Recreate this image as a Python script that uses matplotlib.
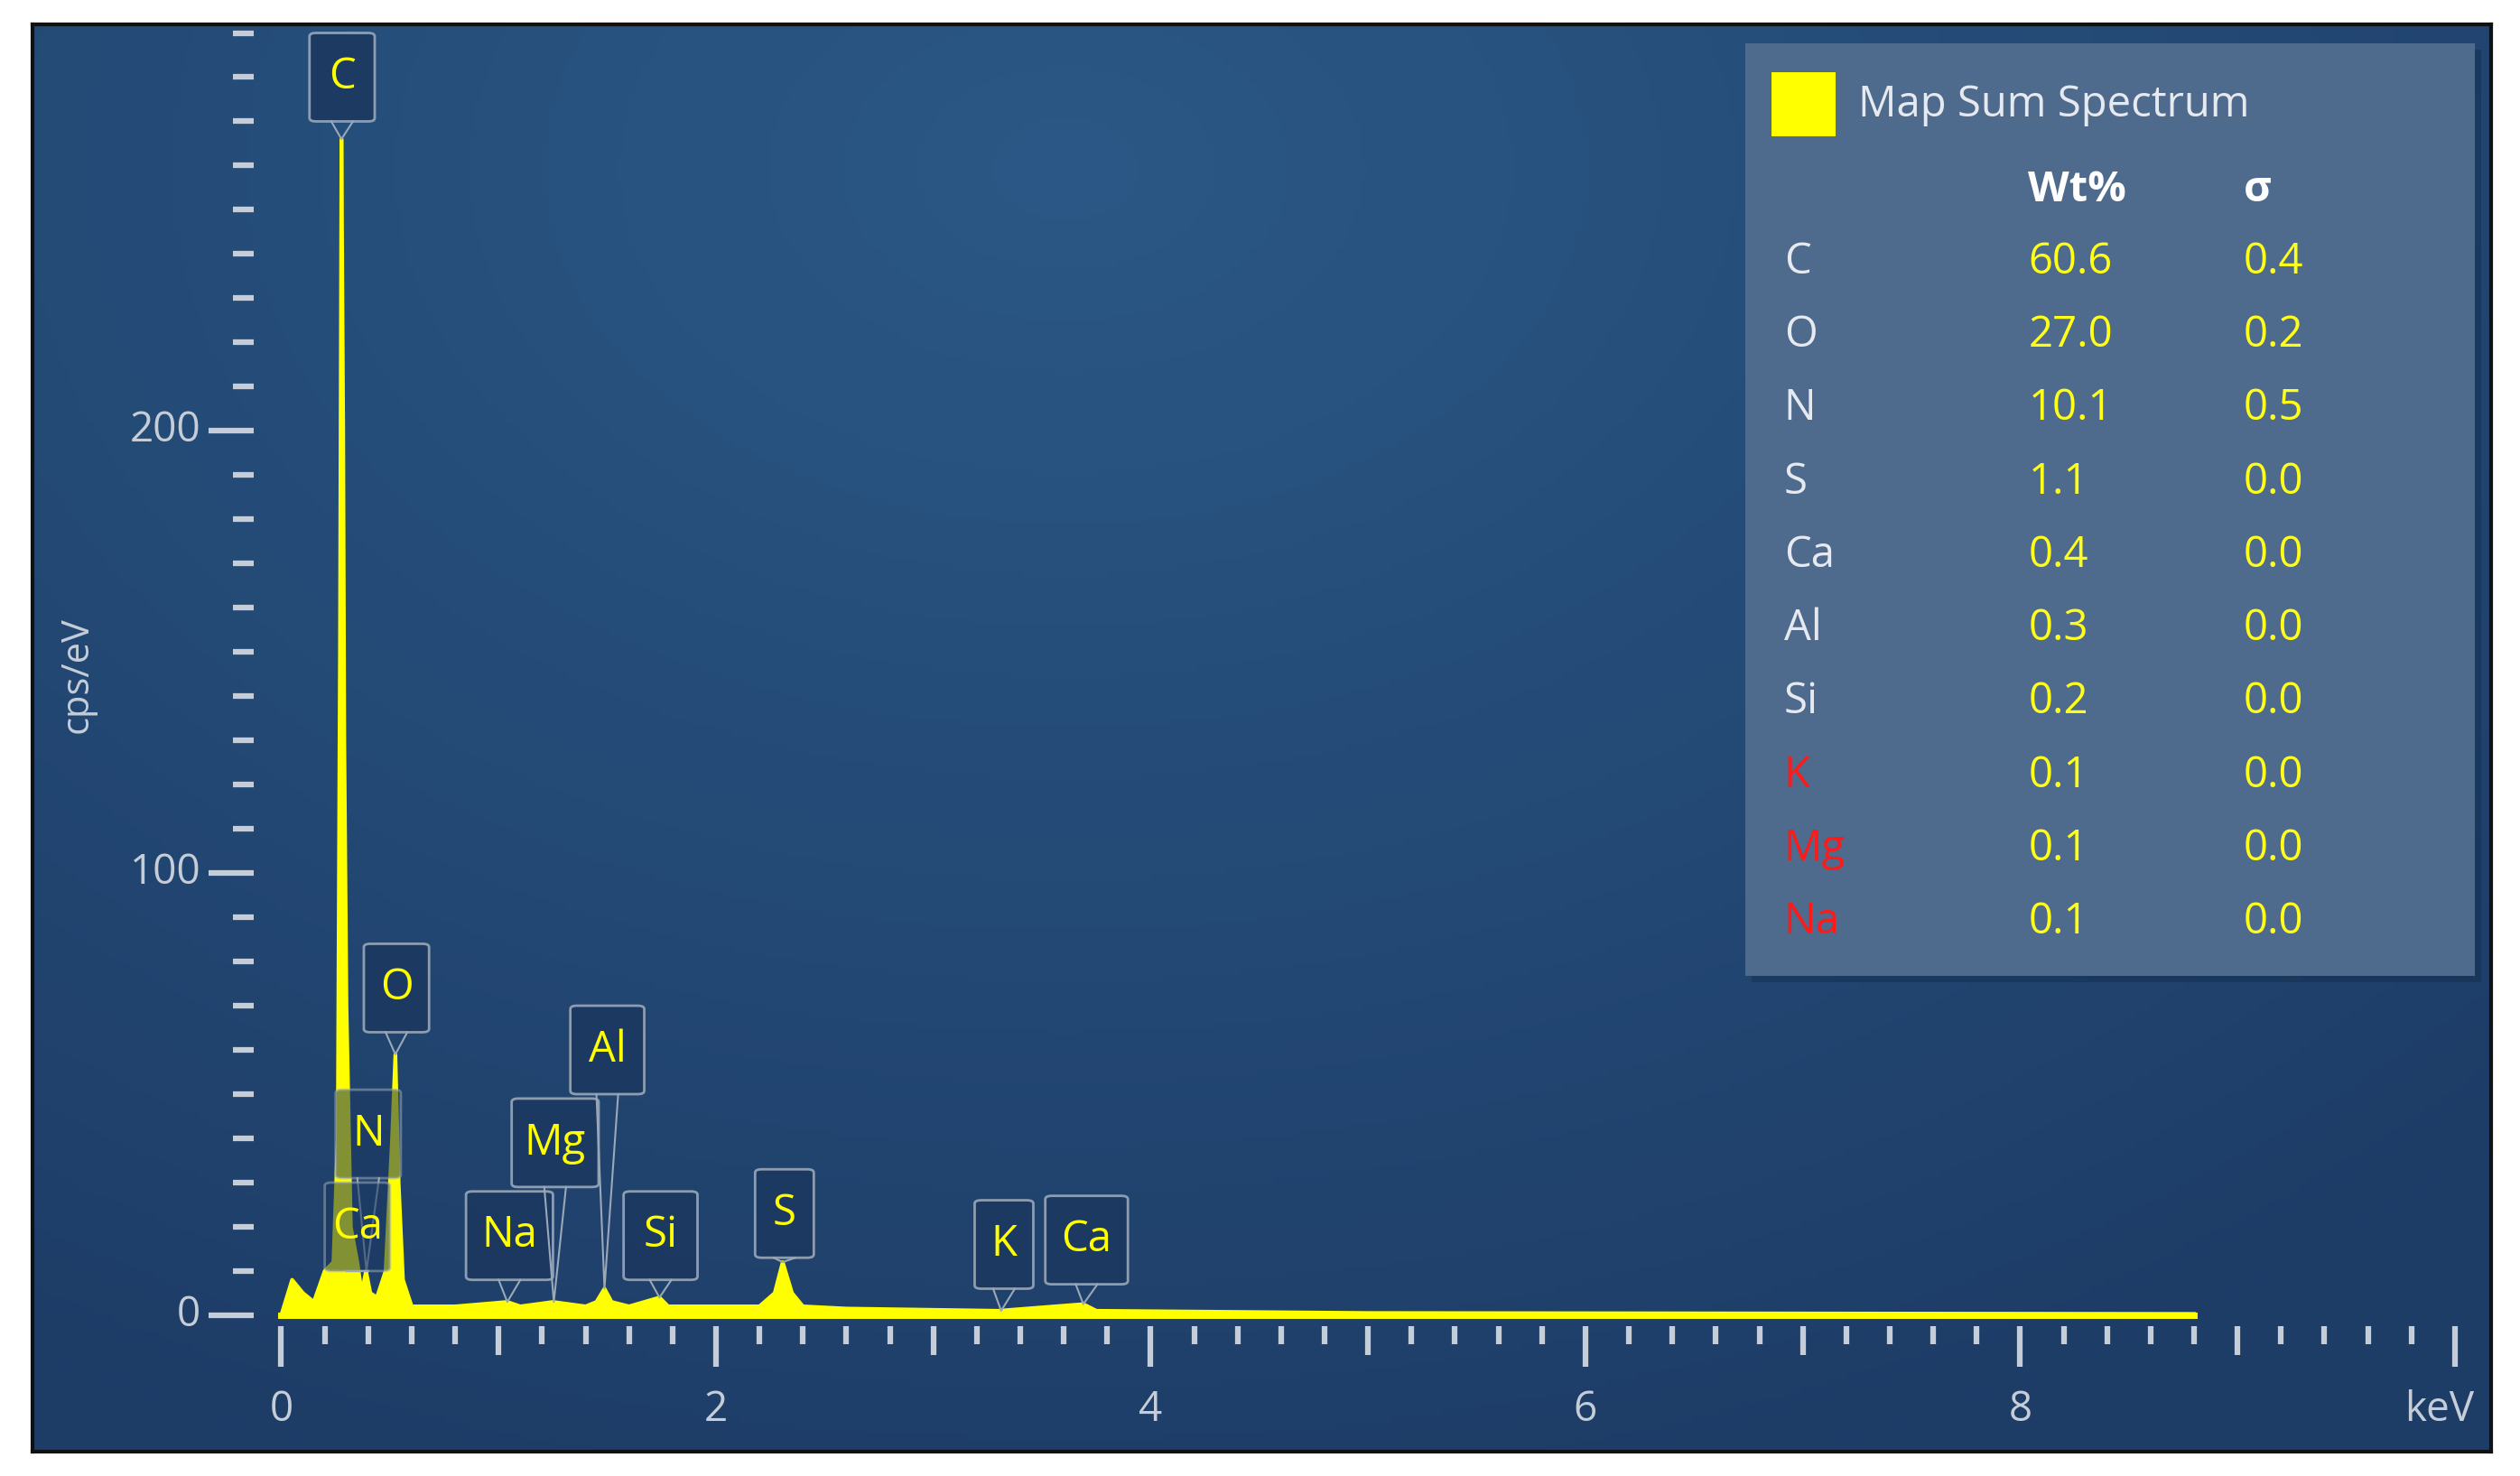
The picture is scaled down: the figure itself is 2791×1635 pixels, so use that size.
import numpy as np
import matplotlib
matplotlib.use("Agg")
import matplotlib.pyplot as plt
from matplotlib.patches import Rectangle, FancyBboxPatch

plt.rcParams['font.family'] = ['Open Sans', 'DejaVu Sans']

# spectrum outline (keV, cps/eV)
energy = [0, 0.05, 0.1, 0.15, 0.2, 0.24, 0.26, 0.27, 0.277, 0.285, 0.29, 0.30, 0.32, 0.35, 0.37, 0.39,
          0.41, 0.44, 0.48, 0.51, 0.525, 0.54, 0.56, 0.6, 0.8, 1.04, 1.1, 1.25, 1.4, 1.45, 1.487, 1.52,
          1.6, 1.74, 1.78, 2.2, 2.27, 2.307, 2.35, 2.4, 2.6, 3.3, 3.69, 3.75, 5.0, 8.8]
counts = [0, 8, 5, 3, 10, 12, 40, 150, 266, 200, 130, 70, 20, 12, 5, 10,
          5, 4, 10, 40, 59, 30, 8, 2, 2, 3, 2, 3, 2, 3, 6, 3,
          2, 4, 2, 2, 5, 12, 5, 2, 1.5, 1, 2.5, 1, 0.5, 0.3]

# peak labels: name, energy of line, label box centre (keV, cps)
peak_names = ["C", "O", "N", "Ca", "Na", "Mg", "Al", "Si", "S", "K", "Ca"]
peak_energy = [0.277, 0.525, 0.392, 0.341, 1.04, 1.254, 1.487, 1.74, 2.307, 3.312, 3.69]
peak_peak_y = [266, 59, 10, 10, 3, 3, 6, 4, 12, 1, 2.5]
label_x = [0.28, 0.53, 0.40, 0.35, 1.05, 1.26, 1.5, 1.745, 2.315, 3.325, 3.705]
label_y = [280, 74, 41, 20, 18, 39, 60, 18, 23, 16, 17]
label_w = [0.30, 0.30, 0.30, 0.30, 0.40, 0.40, 0.34, 0.34, 0.27, 0.27, 0.38]

legend_elements = ["C", "O", "N", "S", "Ca", "Al", "Si", "K", "Mg", "Na"]
legend_wt = ["60.6", "27.0", "10.1", "1.1", "0.4", "0.3", "0.2", "0.1", "0.1", "0.1"]
legend_sigma = ["0.4", "0.2", "0.5", "0.0", "0.0", "0.0", "0.0", "0.0", "0.0", "0.0"]
legend_red = ["K", "Mg", "Na"]

W, H = 1568, 918
fig = plt.figure(figsize=(27.91, 16.35), dpi=100)
fig.patch.set_facecolor("white")

def fx(x): return x / W
def fy(y): return 1 - y / H

ax = fig.add_axes([fx(20), fy(903), (1550 - 20) / W, (903 - 15) / H])
x0, x1 = (20 - 175) / 135.25, (1550 - 175) / 135.25
y0, y1 = (818 - 903) / 2.75, (818 - 15) / 2.75
ax.set_xlim(x0, x1)
ax.set_ylim(y0, y1)
for s in ax.spines.values():
    s.set_color("#111111"); s.set_linewidth(3)
ax.set_xticks([]); ax.set_yticks([])

# gradient background (lighter near top centre)
gx, gy = np.meshgrid(np.linspace(0, 1, 400), np.linspace(0, 1, 240))
d = np.sqrt(((gx - 0.42) / 0.85) ** 2 + ((gy - 0.1) / 1.0) ** 2)
d = np.clip(d, 0, 1)
c1 = np.array([0x2b, 0x58, 0x86]) / 255
c2 = np.array([0x1d, 0x3c, 0x66]) / 255
img = c1[None, None, :] * (1 - d[..., None]) + c2[None, None, :] * d[..., None]
ax.imshow(img, extent=[x0, x1, y0, y1], aspect="auto", zorder=0, origin="upper")

tc = "#c5cdd8"
# y ticks
for v in range(0, 291, 10):
    xa = 130 if v % 100 == 0 else 145
    ax.plot([(xa - 175) / 135.25, (158 - 175) / 135.25], [v, v], color=tc, lw=4.5, zorder=2,
            solid_capstyle="butt")
for v in [0, 100, 200]:
    ax.text((125 - 175) / 135.25, v, str(v), color=tc, fontsize=33, ha="right", va="center")
ax.text((48 - 175) / 135.25, (818 - 420) / 2.75, "cps/eV", color=tc, fontsize=30,
        rotation=90, ha="center", va="center")

# x ticks
for i in range(0, 51):
    v = i * 0.2
    if i % 10 == 0:
        yb = 850
    elif i % 5 == 0:
        yb = 843
    else:
        yb = 836
    ax.plot([v, v], [(818 - 825) / 2.75, (818 - yb) / 2.75], color=tc, lw=4.5, zorder=2,
            solid_capstyle="butt")
for v in [0, 2, 4, 6, 8]:
    ax.text(v, (818 - 877) / 2.75, str(v), color=tc, fontsize=33, ha="center", va="center")
ax.text((1518 - 175) / 135.25, (818 - 877) / 2.75, "keV", color=tc, fontsize=33,
        ha="center", va="center")

# spectrum
ax.fill_between(energy, 0, counts, color="#ffff00", lw=0, zorder=3)
ax.plot(energy, counts, color="#ffff00", lw=3, zorder=3)
ax.plot([0, 8.8], [0, 0], color="#ffff00", lw=5, zorder=3)

# labels
bh = 20
for n, e, py, lx, ly, w in zip(peak_names, peak_energy, peak_peak_y, label_x, label_y, label_w):
    alpha = 0.55 if n in ("N", "Ca") and e < 0.5 else 0.9
    box = FancyBboxPatch((lx - w / 2, ly - bh / 2), w, bh,
                         boxstyle="round,pad=0,rounding_size=0.03", mutation_aspect=25,
                         facecolor="#1c3860", edgecolor="#9aa8b8", lw=2, alpha=alpha, zorder=4)
    ax.add_patch(box)
    ax.plot([lx - 0.05, e, lx + 0.05], [ly - bh / 2, py, ly - bh / 2], color="#9aa8b8",
            lw=1.5, zorder=4)
    ax.text(lx, ly, n, color="#ffff00", fontsize=34, ha="center", va="center", zorder=5)

# legend panel
shadow = Rectangle((fx(1090), fy(611)), (1544 - 1090) / W, (611 - 31) / H,
                   transform=fig.transFigure, facecolor="#15304f", alpha=0.5, zorder=5)
fig.add_artist(shadow)
panel = Rectangle((fx(1086), fy(607)), (1540 - 1086) / W, (607 - 27) / H,
                  transform=fig.transFigure, facecolor="#4e6a8c", edgecolor="none", zorder=6)
fig.add_artist(panel)
fig.add_artist(Rectangle((fx(1102), fy(85)), 40 / W, 40 / H, transform=fig.transFigure,
                         facecolor="#ffff00", zorder=7))
fs = 34
fig.text(fx(1156), fy(65), "Map Sum Spectrum", color="#e6eaf0", fontsize=fs, va="center", zorder=7)
fig.text(fx(1262), fy(118), "Wt%", color="white", fontsize=fs, fontweight="bold", va="center", zorder=7)
fig.text(fx(1396), fy(118), "σ", color="white", fontsize=fs, fontweight="bold", va="center", zorder=7)
for i, (el, wt, sg) in enumerate(zip(legend_elements, legend_wt, legend_sigma)):
    y = 163 + i * 45.6
    fig.text(fx(1110), fy(y), el, color="#ff1a1a" if el in legend_red else "#e6eaf0",
             fontsize=fs, va="center", zorder=7)
    fig.text(fx(1262), fy(y), wt, color="#ffff1a", fontsize=fs, va="center", zorder=7)
    fig.text(fx(1396), fy(y), sg, color="#ffff1a", fontsize=fs, va="center", zorder=7)

fig.savefig("out.png", dpi=100, facecolor="white")
